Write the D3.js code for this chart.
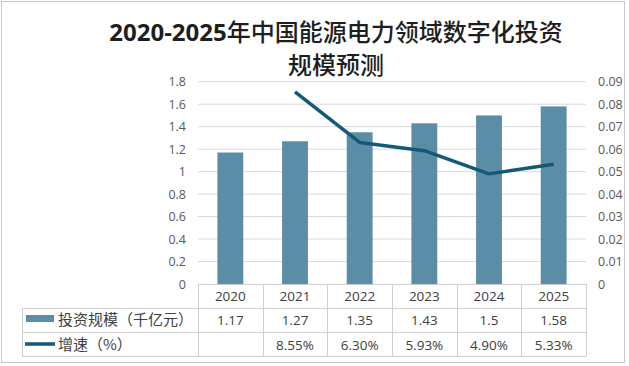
<!DOCTYPE html>
<html><head><meta charset="utf-8">
<script src="https://cdn.jsdelivr.net/npm/d3@7"></script>
<style>
html,body{margin:0;padding:0;background:#fff;}
svg{display:block;font-family:"Noto Sans CJK SC","Noto Sans",sans-serif;}
</style></head>
<body><svg id="c" width="629" height="366"></svg>
<script>
const years = ["2020","2021","2022","2023","2024","2025"];
const investment = [1.17,1.27,1.35,1.43,1.5,1.58];
const growth = [null,0.0855,0.0630,0.0593,0.0490,0.0533];
const growthLabels = ["","8.55%","6.30%","5.93%","4.90%","5.33%"];
const leftTicks = [0,0.2,0.4,0.6,0.8,1,1.2,1.4,1.6,1.8];
const rightTicks = [0,0.01,0.02,0.03,0.04,0.05,0.06,0.07,0.08,0.09];
const seriesNames = ["投资规模（千亿元）","增速（%）"];
const titleLines = ["2020-2025年中国能源电力领域数字化投资","规模预测"];

const svg = d3.select("#c");
const barColor = "#5b8ea6", lineColor = "#135a7a", gridColor = "#d9d9d9", axisText = "#595959", tableText = "#404040";

svg.append("rect").attr("x",1.5).attr("y",1.5).attr("width",623).attr("height",361)
  .attr("fill","#fff").attr("stroke","#c8c8c8");

// title: digits bold, CJK regular
const tt = svg.selectAll(".title").data(titleLines).join("text")
  .attr("x",336).attr("y",(d,i)=>41+i*33).attr("text-anchor","middle")
  .attr("font-size",24).attr("fill","#1e1e1e");
tt.each(function(d){
  const parts = d.match(/[0-9\-]+|[^0-9\-]+/g);
  d3.select(this).selectAll("tspan").data(parts).join("tspan")
    .attr("font-weight",p=>/^[0-9\-]+$/.test(p)?"bold":"500")
    .attr("font-family",p=>/^[0-9\-]+$/.test(p)?"'Open Sans','Noto Sans',sans-serif":null)
    .text(p=>p);
});

const L=198, R=586, T=81.7, B=284;
const x = d3.scaleBand().domain(years).range([L,R]).paddingInner(0.6).paddingOuter(0.3);
const xc = d3.scaleBand().domain(years).range([L,R]);
const yL = d3.scaleLinear().domain([0,1.8]).range([B,T]);
const yR = d3.scaleLinear().domain([0,0.09]).range([B,T]);

// gridlines
svg.append("g").selectAll("line").data(leftTicks.slice(1)).join("line")
  .attr("x1",L).attr("x2",R).attr("y1",d=>yL(d)).attr("y2",d=>yL(d))
  .attr("stroke",gridColor).attr("stroke-width",1);

// left axis
const la = svg.append("g").attr("transform",`translate(${L},0)`)
  .call(d3.axisLeft(yL).tickValues(leftTicks).tickSize(0).tickPadding(12).tickFormat(d3.format("~g")));
la.select(".domain").remove();
la.selectAll("text").attr("fill",axisText).attr("font-size",12.5).attr("font-family","'Open Sans','Noto Sans',sans-serif");

// right axis
const ra = svg.append("g").attr("transform",`translate(${R},0)`)
  .call(d3.axisRight(yR).tickValues(rightTicks).tickSize(0).tickPadding(12).tickFormat(d=>d===0?"0":d3.format(".2f")(d)));
ra.select(".domain").remove();
ra.selectAll("text").attr("fill",axisText).attr("font-size",12.5).attr("font-family","'Open Sans','Noto Sans',sans-serif");

// bars
svg.append("g").selectAll("rect").data(investment).join("rect")
  .attr("x",(d,i)=>x(years[i])).attr("width",x.bandwidth())
  .attr("y",d=>yL(d)).attr("height",d=>B-yL(d)).attr("fill",barColor);

// line
const pts = growth.map((g,i)=>({g,yr:years[i]})).filter(p=>p.g!==null);
svg.append("path").datum(pts)
  .attr("d",d3.line().x(p=>xc(p.yr)+xc.bandwidth()/2).y(p=>yR(p.g)))
  .attr("fill","none").attr("stroke",lineColor).attr("stroke-width",3.5).attr("stroke-linejoin","round");

// data table
const tb = svg.append("g").attr("stroke","#d0d0d0").attr("stroke-width",1);
tb.append("line").attr("x1",L).attr("x2",R).attr("y1",B+0.5).attr("y2",B+0.5);
[308.5,332.5,356.5].forEach(yv=>tb.append("line").attr("x1",22).attr("x2",R).attr("y1",yv).attr("y2",yv));
tb.append("line").attr("x1",22.5).attr("x2",22.5).attr("y1",308.5).attr("y2",356.5);
xc.domain().concat(["end"]).forEach((yr,i)=>{
  const xv = (i<years.length? xc(yr): R);
  tb.append("line").attr("x1",Math.round(xv)+0.5).attr("x2",Math.round(xv)+0.5).attr("y1",B).attr("y2",356.5);
});
const cellText = (arr,yv)=>svg.append("g").selectAll("text").data(arr).join("text")
  .attr("x",(d,i)=>xc(years[i])+xc.bandwidth()/2).attr("y",yv).attr("text-anchor","middle")
  .attr("font-size",13.5).attr("fill",tableText).attr("font-family","'Open Sans','Noto Sans',sans-serif").text(d=>d);
cellText(years,301);
cellText(investment.map(String),325);
cellText(growthLabels,349.5);

// legend keys
svg.append("rect").attr("x",26).attr("y",315).attr("width",28).attr("height",7).attr("fill",barColor);
svg.append("line").attr("x1",25).attr("x2",55).attr("y1",344).attr("y2",344).attr("stroke",lineColor).attr("stroke-width",3.5);
svg.selectAll(".lg").data(seriesNames).join("text")
  .attr("x",58).attr("y",(d,i)=>325+i*24.5).attr("font-size",15).attr("fill",tableText).text(d=>d);
</script></body></html>
